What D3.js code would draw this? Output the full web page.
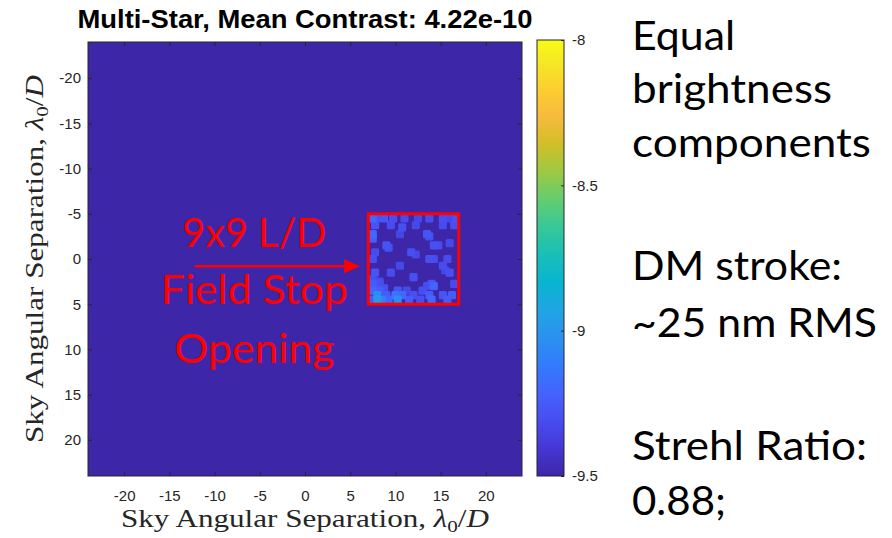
<!DOCTYPE html>
<html>
<head>
<meta charset="utf-8">
<script src="https://cdn.jsdelivr.net/npm/d3@7"></script>
<style>
  body { margin: 0; background: #fff; }
  svg { display: block; }
  .axis text { font-family: "Liberation Sans", Arial, sans-serif; font-size: 15px; fill: #262626; }
  .axis line { stroke: #262626; }
</style>
</head>
<body>
<div class="chart"></div>
<script>
// ---- data ----
const titleText = "Multi-Star, Mean Contrast: 4.22e-10";
const xTicks = [-20, -15, -10, -5, 0, 5, 10, 15, 20];
const yTicks = [-20, -15, -10, -5, 0, 5, 10, 15, 20];
const cbarTicks = [-9.5, -9, -8.5, -8];
const axisExtent = [-24, 24];
const cbarExtent = [-9.5, -8];
const floorLevel = -9.5;
// field stop opening (lambda/D)
const stopX = [7, 17];
const stopY = [-5, 5];
// bright speckles inside the opening: [x, y, log10 contrast]
const speckles = [
  [7.5, -4.5, -9.2], [8.0, -4.5, -9.28], [8.75, -4.5, -9.27], [9.75, -4.5, -9.3], [11.0, -4.5, -9.32],
  [12.5, -4.5, -9.33], [13.75, -4.5, -9.32], [15.25, -4.5, -9.3], [16.0, -4.5, -9.33], [16.75, -4.5, -9.28],
  [7.75, -3.75, -9.28], [9.5, -3.75, -9.32], [10.75, -3.5, -9.3], [12.25, -3.75, -9.33], [15.25, -3.75, -9.32], [16.5, -3.75, -9.3],
  [7.5, -2.75, -9.2], [7.5, -2.25, -9.25], [13.5, -2.75, -9.28], [13.75, -2.5, -9.3], [10.5, -2.75, -9.35],
  [9.0, -1.5, -9.28], [9.25, -1.25, -9.3], [14.25, -1.5, -9.3], [14.75, -1.5, -9.32], [16.0, -1.75, -9.33],
  [11.75, -0.75, -9.3], [7.75, -0.75, -9.32], [12.25, -0.5, -9.34],
  [7.5, 0, -9.3], [13.75, 0, -9.3], [14.25, 0, -9.32], [15.75, 0, -9.32],
  [10.5, 0.75, -9.33], [15.25, 0.75, -9.32],
  [7.75, 1.5, -9.28], [9.5, 1.5, -9.32], [16.0, 1.5, -9.3], [15.5, 1.25, -9.34],
  [12.0, 2.0, -9.3], [7.5, 2.25, -9.3], [8.25, 2.5, -9.32],
  [7.5, 2.75, -9.25], [8.25, 2.75, -9.3], [14.0, 2.75, -9.28], [14.25, 3.0, -9.22], [16.5, 2.75, -9.32], [13.5, 3.0, -9.32],
  [7.5, 3.5, -9.2], [8.25, 3.5, -9.25], [8.75, 3.25, -9.3], [10.25, 3.5, -9.28], [13.0, 3.5, -9.3], [11.25, 3.5, -9.33],
  [8.0, 4.0, -9.05], [10.0, 4.0, -9.15], [10.75, 4.0, -9.2], [13.75, 4.0, -9.25], [15.25, 4.0, -9.28], [16.25, 4.0, -9.25],
  [9.0, 4.0, -9.25], [12.0, 4.0, -9.3],
  [8.0, 4.5, -9.0], [8.5, 4.5, -9.1], [10.25, 4.5, -9.05], [9.25, 4.5, -9.2], [11.5, 4.5, -9.25], [14.0, 4.5, -9.2],
  [15.75, 4.5, -9.25], [7.5, 4.5, -9.25], [12.75, 4.5, -9.3]
];
const noteLabel = ["9x9 L/D", "Field Stop", "Opening"];
const sideNotes = ["Equal", "brightness", "components", "DM stroke:", "~25 nm RMS", "Strehl Ratio:", "0.88;"];

// parula colormap (sampled)
const parula = [
  [0.2422, 0.1504, 0.6603], [0.2706, 0.2147, 0.8364], [0.2813, 0.3006, 0.9414], [0.2699, 0.3892, 0.9906],
  [0.1963, 0.4847, 0.9892], [0.1687, 0.5703, 0.9359], [0.1248, 0.6459, 0.8883], [0.0297, 0.7082, 0.8163],
  [0.0964, 0.7500, 0.7120], [0.2161, 0.7843, 0.5923], [0.3909, 0.8029, 0.4354], [0.6174, 0.7876, 0.2612],
  [0.8203, 0.7498, 0.1535], [0.9728, 0.7298, 0.2394], [0.9892, 0.8136, 0.1885], [0.9597, 0.9135, 0.1423],
  [0.9769, 0.9839, 0.0805]
].map(c => d3.rgb(c[0] * 255, c[1] * 255, c[2] * 255).formatHex());
const parulaPos = [0, 4, 8, 12, 16, 20, 24, 28, 32, 36, 40, 44, 48, 52, 56, 60, 63].map(i => i / 63);

//Margin convention
const margin = {top: 42, left: 88};
const width = 434;
const height = 434;

const svg = d3.select('.chart').append('svg')
  .attr('width', 892)
  .attr('height', 538);

const g = svg.append('g')
  .attr('transform', 'translate(' + margin.left + ',' + margin.top + ')');

//Scales
const xScale = d3.scaleLinear().domain(axisExtent).range([0, width]);
const yScale = d3.scaleLinear().domain(axisExtent).range([0, height]);
const colorScale = d3.scaleLinear()
  .domain(parulaPos.map(p => cbarExtent[0] + p * (cbarExtent[1] - cbarExtent[0])))
  .range(parula)
  .clamp(true);

// image background (floor level)
g.append('rect')
  .attr('x', xScale(axisExtent[0]))
  .attr('y', yScale(axisExtent[0]))
  .attr('width', xScale(axisExtent[1]) - xScale(axisExtent[0]))
  .attr('height', yScale(axisExtent[1]) - yScale(axisExtent[0]))
  .attr('fill', colorScale(floorLevel));

// speckles, faint ones first so the brighter cores stay on top
const cell = 0.9;
g.append('g')
  .selectAll('rect')
  .data(speckles.slice().sort((a, b) => a[2] - b[2]))
  .enter()
  .append('rect')
  .attr('x', d => xScale(Math.max(stopX[0], d[0] - cell / 2)))
  .attr('y', d => yScale(Math.max(stopY[0], d[1] - cell / 2)))
  .attr('width', d => xScale(Math.min(stopX[1], d[0] + cell / 2)) - xScale(Math.max(stopX[0], d[0] - cell / 2)))
  .attr('height', d => yScale(Math.min(stopY[1], d[1] + cell / 2)) - yScale(Math.max(stopY[0], d[1] - cell / 2)))
  .attr('rx', 1.5)
  .attr('fill', d => colorScale(d[2]));

// field stop box
g.append('rect')
  .attr('x', xScale(stopX[0]))
  .attr('y', yScale(stopY[0]))
  .attr('width', xScale(stopX[1]) - xScale(stopX[0]))
  .attr('height', yScale(stopY[1]) - yScale(stopY[0]))
  .attr('fill', 'none')
  .attr('stroke', '#ff0000')
  .attr('stroke-width', 3);

// annotation text + arrow
const noteFont = "Lato, 'Open Sans', sans-serif";
const noteWidths = [144, 187, 160];
const noteY = [-1.32, 5.0, 11.5];
g.append('g').selectAll('text')
  .data(noteLabel)
  .enter()
  .append('text')
  .attr('x', xScale(-5.6))
  .attr('y', (d, i) => yScale(noteY[i]))
  .attr('text-anchor', 'middle')
  .attr('font-family', noteFont)
  .attr('font-size', 41)
  .attr('fill', '#ff0000')
  .attr('textLength', (d, i) => noteWidths[i])
  .attr('lengthAdjust', 'spacingAndGlyphs')
  .text(d => d);

const arrowY = yScale(0.8);
const arrowX0 = xScale(-12.2), arrowX1 = xScale(6.1);
g.append('line')
  .attr('x1', arrowX0).attr('x2', arrowX1 - 10)
  .attr('y1', arrowY).attr('y2', arrowY)
  .attr('stroke', '#ff0000')
  .attr('stroke-width', 2.5);
g.append('path')
  .attr('d', `M${arrowX1},${arrowY} L${arrowX1 - 16},${arrowY - 7} L${arrowX1 - 16},${arrowY + 7} Z`)
  .attr('fill', '#ff0000');

//Axes (ticks inside, MATLAB style)
const fmt = d => String(d);
g.append('g')
  .attr('class', 'axis')
  .attr('transform', `translate(0, ${height})`)
  .call(d3.axisBottom(xScale).tickValues(xTicks).tickFormat(fmt).tickSizeInner(-4).tickSizeOuter(0).tickPadding(14))
  .call(a => a.select('.domain').remove());
g.append('g')
  .attr('class', 'axis')
  .call(d3.axisTop(xScale).tickValues(xTicks).tickFormat('').tickSizeInner(-4).tickSizeOuter(0))
  .call(a => a.select('.domain').remove());
g.append('g')
  .attr('class', 'axis')
  .call(d3.axisLeft(yScale).tickValues(yTicks).tickFormat(fmt).tickSizeInner(-4).tickSizeOuter(0).tickPadding(7))
  .call(a => a.select('.domain').remove());
g.append('g')
  .attr('class', 'axis')
  .attr('transform', `translate(${width}, 0)`)
  .call(d3.axisRight(yScale).tickValues(yTicks).tickFormat('').tickSizeInner(-4).tickSizeOuter(0))
  .call(a => a.select('.domain').remove());

g.append('rect')
  .attr('width', width)
  .attr('height', height)
  .attr('fill', 'none')
  .attr('stroke', '#262626')
  .attr('stroke-width', 1);

// title
svg.append('text')
  .attr('x', margin.left + width / 2)
  .attr('y', 28)
  .attr('text-anchor', 'middle')
  .attr('font-family', "'Liberation Sans', Arial, sans-serif")
  .attr('font-weight', 'bold')
  .attr('font-size', 26)
  .attr('fill', '#000')
  .attr('textLength', 455)
  .attr('lengthAdjust', 'spacingAndGlyphs')
  .text(titleText);

// axis labels (LaTeX style)
function axisLabel(sel) {
  sel.attr('font-family', "'Liberation Serif', 'DejaVu Serif', serif")
    .attr('font-size', 25)
    .attr('fill', '#262626')
    .attr('text-anchor', 'middle')
    .attr('textLength', 368)
    .attr('lengthAdjust', 'spacingAndGlyphs');
  sel.append('tspan').text('Sky Angular Separation, ');
  sel.append('tspan').attr('font-style', 'italic').text('λ');
  sel.append('tspan').attr('font-size', 17).attr('dy', 5).text('0');
  sel.append('tspan').attr('dy', -5).text('/');
  sel.append('tspan').attr('font-style', 'italic').text('D');
}
svg.append('text')
  .attr('x', margin.left + width / 2)
  .attr('y', 527)
  .call(axisLabel);
svg.append('text')
  .attr('transform', `translate(43, ${margin.top + height / 2}) rotate(-90)`)
  .call(axisLabel);

// colorbar
const cbar = {x: 537, w: 27, top: 40, bottom: 476};
const cScale = d3.scaleLinear().domain(cbarExtent).range([cbar.bottom, cbar.top]);
const grad = svg.append('defs').append('linearGradient')
  .attr('id', 'parula')
  .attr('x1', 0).attr('y1', 1).attr('x2', 0).attr('y2', 0);
grad.selectAll('stop')
  .data(parula)
  .enter()
  .append('stop')
  .attr('offset', (d, i) => parulaPos[i])
  .attr('stop-color', d => d);
svg.append('rect')
  .attr('x', cbar.x)
  .attr('y', cScale(cbarExtent[1]))
  .attr('width', cbar.w)
  .attr('height', cScale(cbarExtent[0]) - cScale(cbarExtent[1]))
  .attr('fill', 'url(#parula)')
  .attr('stroke', '#262626')
  .attr('stroke-width', 1);
svg.append('g')
  .attr('class', 'axis')
  .attr('transform', `translate(${cbar.x + cbar.w}, 0)`)
  .call(d3.axisRight(cScale).tickValues(cbarTicks).tickFormat(fmt).tickSizeInner(-3).tickSizeOuter(0).tickPadding(8))
  .call(a => a.select('.domain').remove())
  .call(a => a.selectAll('text').attr('font-size', 14));

// side notes
const sideY = [50, 103, 157, 280, 337, 460, 515];
const sideW = [103, 200, 239, 210, 245, 235, 94];
svg.append('g').selectAll('text')
  .data(sideNotes)
  .enter()
  .append('text')
  .attr('x', 632)
  .attr('y', (d, i) => sideY[i])
  .attr('font-family', noteFont)
  .attr('font-size', 41)
  .attr('fill', '#000')
  .attr('textLength', (d, i) => sideW[i])
  .attr('lengthAdjust', 'spacingAndGlyphs')
  .text(d => d);
</script>
</body>
</html>
